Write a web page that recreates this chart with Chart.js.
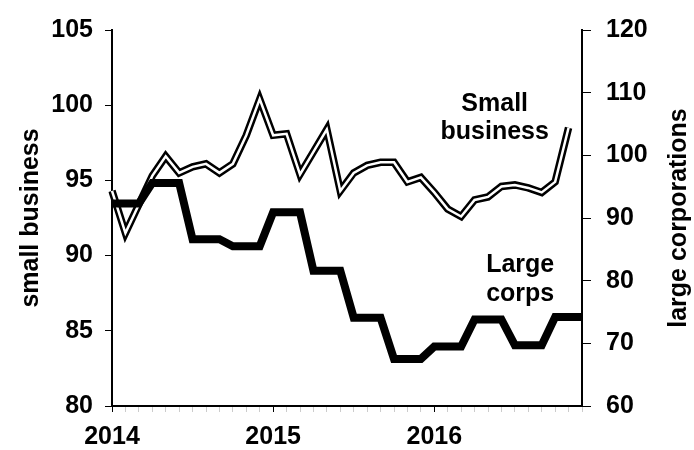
<!DOCTYPE html>
<html>
<head>
<meta charset="utf-8">
<script src="https://cdn.jsdelivr.net/npm/chart.js@4.4.0/dist/chart.umd.min.js"></script>
<style>
  html, body { margin: 0; padding: 0; background: #fff; }
  #wrap { width: 694px; height: 450px; }
</style>
</head>
<body>
<div id="wrap"><canvas id="myChart" width="694" height="450"></canvas></div>
<script>
// monthly points, Jan 2014 .. Dec 2016
const years = ['2014', '2015', '2016'];
const monthNames = ['Jan', 'Feb', 'Mar', 'Apr', 'May', 'Jun', 'Jul', 'Aug', 'Sep', 'Oct', 'Nov', 'Dec'];
const months = [];
years.forEach(y => monthNames.forEach(m => months.push(m + ' ' + y)));

// small business index (left axis)
const smallBusiness = [
  94.3, 91.5, 93.4, 95.3, 96.6, 95.5, 95.9, 96.1, 95.5, 96.1, 98.0, 100.4,
  98.0, 98.1, 95.4, 96.9, 98.4, 94.3, 95.5, 96.0, 96.2, 96.2, 94.9, 95.2,
  94.2, 93.1, 92.6, 93.7, 93.9, 94.6, 94.7, 94.5, 94.2, 94.9, 98.5, null
];

// large corporations index (right axis)
const largeCorps = [
  92.3, 92.3, 92.3, 95.6, 95.6, 95.6, 86.6, 86.6, 86.6, 85.5, 85.5, 85.5,
  90.9, 90.9, 90.9, 81.6, 81.6, 81.6, 74.1, 74.1, 74.1, 67.5, 67.5, 67.5,
  69.5, 69.5, 69.5, 73.8, 73.8, 73.8, 69.7, 69.7, 69.7, 74.2, 74.2, 74.2
];

const leftTitle = 'small business';
const rightTitle = 'large corporations';

// in-chart labels, anchored in data units
const noteLines = [['Small', 'business'], ['Large', 'corps']];
const noteX = [28.5, 30.4];
const noteAxis = ['yLeft', 'yRight'];
const noteY = [[100.1, 98.2], [82.5, 77.8]];

const FONT = "'Liberation Sans', Arial, sans-serif";
Chart.defaults.font.family = FONT;
Chart.defaults.color = '#000';

const notesPlugin = {
  id: 'notes',
  afterDatasetsDraw(chart) {
    const ctx = chart.ctx;
    ctx.save();
    ctx.fillStyle = '#000';
    ctx.font = 'bold 25px ' + FONT;
    ctx.textAlign = 'center';
    ctx.textBaseline = 'middle';
    noteLines.forEach((lines, i) => {
      const x = chart.scales.x.getPixelForValue(noteX[i]);
      lines.forEach((txt, j) => {
        const y = chart.scales[noteAxis[i]].getPixelForValue(noteY[i][j]);
        ctx.fillText(txt, x, y);
      });
    });
    // right axis title reads bottom-to-top, like the left one
    const r = chart.scales.yRight;
    ctx.translate(r.right - 15, (r.top + r.bottom) / 2);
    ctx.rotate(-Math.PI / 2);
    ctx.fillText(rightTitle, 0, 0);
    ctx.restore();
  }
};

new Chart(document.getElementById('myChart').getContext('2d'), {
  type: 'line',
  data: {
    labels: months,
    datasets: [{
      label: 'Large corps',
      data: largeCorps,
      yAxisID: 'yRight',
      borderColor: '#000',
      borderWidth: 8
    }, {
      label: 'Small business (inner)',
      data: smallBusiness,
      yAxisID: 'yLeft',
      borderColor: '#fff',
      borderWidth: 2.5
    }, {
      label: 'Small business',
      data: smallBusiness,
      yAxisID: 'yLeft',
      borderColor: '#000',
      borderWidth: 7.5
    }]
  },
  options: {
    responsive: false,
    animation: false,
    layout: { padding: { top: 22, right: 0, bottom: 0, left: 0 } },
    elements: { point: { radius: 0 }, line: { tension: 0 } },
    plugins: { legend: { display: false }, tooltip: { enabled: false } },
    scales: {
      x: {
        type: 'category',
        offset: false,
        grid: {
          drawOnChartArea: false,
          tickLength: 6,
          tickColor: c => (c.index % 12 === 0 ? '#000' : 'rgba(0,0,0,0.2)')
        },
        border: { color: '#000', width: 2 },
        ticks: {
          autoSkip: false,
          maxRotation: 0,
          padding: 10,
          font: { size: 25, weight: 'bold' },
          callback: (v, i) => (i % 12 === 0 ? years[i / 12] : '')
        },
        afterFit: s => { s.height = 44; }
      },
      yLeft: {
        position: 'left',
        min: 80,
        max: 105,
        ticks: { stepSize: 5, padding: 12, font: { size: 25, weight: 'bold' } },
        grid: { drawOnChartArea: false, tickLength: 7, tickColor: '#000' },
        border: { color: '#000', width: 2 },
        title: { display: true, text: leftTitle, font: { size: 25, weight: 'bold' }, padding: { top: 16, bottom: 0 } },
        afterFit: s => { s.width = 112; }
      },
      yRight: {
        position: 'right',
        min: 60,
        max: 120,
        ticks: { stepSize: 10, padding: 15, font: { size: 25, weight: 'bold' } },
        grid: { drawOnChartArea: false, tickLength: 9, tickColor: '#000' },
        border: { color: '#000', width: 2 },
        afterFit: s => { s.width = 112; }
      }
    }
  },
  plugins: [notesPlugin]
});
</script>
</body>
</html>
